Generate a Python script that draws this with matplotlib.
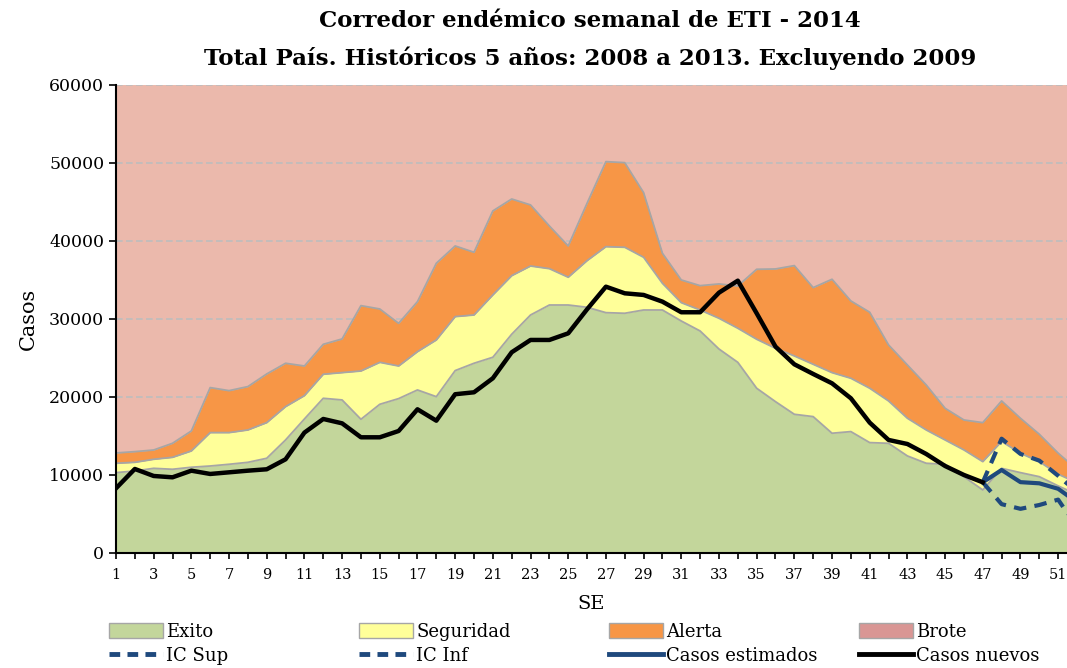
import numpy as np
import matplotlib
matplotlib.use("Agg")
import matplotlib.pyplot as plt  # noqa
from matplotlib.patches import Patch  # noqa
from matplotlib.lines import Line2D  # noqa

plt.rcParams["font.family"] = ["DejaVu Serif"]

# Epidemiological weeks
weeks = np.arange(1, 53)

# Upper limits of each zone (cumulative values)
exito = [10300, 10510, 10850, 10730, 10990, 11150, 11370, 11620, 12140, 14490,
         17180, 19830, 19620, 17140, 19060, 19790, 20900, 20040, 23380, 24320,
         25090, 28040, 30510, 31790, 31790, 31500, 30810, 30730, 31150, 31150,
         29740, 28460, 26150, 24440, 21120, 19400, 17780, 17480, 15350, 15560,
         14150, 14060, 12440, 11500, 11370, 9780, 8080, 10850, 10300, 9780,
         8600, 7500]
seguridad = [11500, 11620, 12010, 12260, 13080, 15430, 15430, 15770, 16710,
             18760, 20170, 22910, 23120, 23330, 24440, 23970, 25810, 27310,
             30300, 30510, 33080, 35550, 36790, 36450, 35350, 37480, 39270,
             39190, 37910, 34570, 32090, 31150, 30090, 28810, 27400, 26240,
             25260, 24190, 23120, 22400, 21120, 19490, 17270, 15770, 14490,
             13210, 11710, 14300, 12780, 11710, 10100, 9000]
alerta = [12820, 12990, 13200, 14060, 15640, 21200, 20810, 21330, 22950, 24320,
          23970, 26750, 27440, 31710, 31280, 29440, 32220, 37140, 39360, 38550,
          43850, 45380, 44620, 41920, 39360, 44830, 50170, 50040, 46200, 38420,
          35000, 34270, 34490, 34230, 36370, 36410, 36840, 34020, 35090, 32310,
          30860, 26670, 24100, 21540, 18550, 17050, 16710, 19490, 17270, 15220,
          12800, 10700]
brote_max = 60000

# Observed cases (weeks 1-47)
casos_nuevos = [8290, 10770, 9870, 9700, 10550, 10130, 10340, 10550, 10730,
                12010, 15430, 17180, 16620, 14830, 14830, 15640, 18420, 16960,
                20350, 20600, 22400, 25730, 27310, 27310, 28160, 31240, 34140,
                33290, 33080, 32220, 30860, 30860, 33370, 34910, 30730, 26450,
                24190, 22950, 21750, 19830, 16710, 14490, 13970, 12690, 11150,
                10000, 9060]

# Estimated cases and confidence interval (weeks 47-52)
weeks_est = np.arange(47, 53)
casos_estimados = [9060, 10640, 9080, 8930, 8230, 6500]
ic_sup = [9060, 14650, 12700, 11840, 9900, 7800]
ic_inf = [9060, 6260, 5660, 6150, 6840, 3300]

c_exito = "#C3D69B"
c_seg = "#FFFF99"
c_alerta = "#F79646"
c_brote = "#D99694"
c_bg = "#EBB9AC"
c_edge = "#A6A6A6"
c_blue = "#1F497D"

fig = plt.figure(figsize=(10.67, 6.68), dpi=100)
ax = fig.add_axes([0.1087, 0.1722, 0.8913, 0.7006])
ax.set_facecolor(c_bg)

# Stacked zones
zero = np.zeros(len(weeks))
ax.fill_between(weeks, zero, exito, color=c_exito, lw=0, zorder=2)
ax.fill_between(weeks, exito, seguridad, color=c_seg, lw=0, zorder=2)
ax.fill_between(weeks, seguridad, alerta, color=c_alerta, lw=0, zorder=2)
for lim in (exito, seguridad, alerta):
    ax.plot(weeks, lim, color=c_edge, lw=1.3, zorder=3)

# Lines
ax.plot(weeks_est, ic_sup, color=c_blue, lw=3, ls=(0, (3, 2)), zorder=4)
ax.plot(weeks_est, ic_inf, color=c_blue, lw=3, ls=(0, (3, 2)), zorder=4)
ax.plot(weeks_est, casos_estimados, color=c_blue, lw=3, zorder=4)
ax.plot(weeks[:len(casos_nuevos)], casos_nuevos, color="black", lw=3.2,
        zorder=5)

ax.set_xlim(1, 51.47)
ax.set_ylim(0, brote_max)
ax.set_yticks(np.arange(0, 60001, 10000))
ax.set_xticks(weeks[weeks <= 51])
ax.set_xticklabels([str(w) if w % 2 == 1 else "" for w in weeks[weeks <= 51]])
ax.tick_params(axis="x", direction="inout", length=9, width=1.2,
               labelsize=10.5, pad=6)
ax.tick_params(axis="y", direction="out", length=5, width=1.2,
               labelsize=12.5)
ax.yaxis.grid(True, color="#BDBDBD", ls=(0, (4, 2)), lw=1.2, zorder=1)
ax.set_axisbelow(True)
for s in ("top", "right"):
    ax.spines[s].set_visible(False)
for s in ("left", "bottom"):
    ax.spines[s].set_linewidth(1.5)
    ax.spines[s].set_zorder(6)

ax.set_ylabel("Casos", fontsize=15, labelpad=8)
ax.set_xlabel("SE", fontsize=14, labelpad=10)

fig.text(0.553, 0.969, "Corredor endémico semanal de ETI - 2014",
         ha="center", va="center", fontsize=16.5, fontweight="bold")
fig.text(0.553, 0.913,
         "Total País. Históricos 5 años: 2008 a 2013. Excluyendo 2009",
         ha="center", va="center", fontsize=16.5, fontweight="bold")

# Legend, one block per column
cols = [
    [(Patch(facecolor=c_exito, edgecolor=c_edge), "Exito"),
     (Line2D([0], [0], color=c_blue, lw=3.5, ls=(0, (2.2, 1.5))), "IC Sup")],
    [(Patch(facecolor=c_seg, edgecolor=c_edge), "Seguridad"),
     (Line2D([0], [0], color=c_blue, lw=3.5, ls=(0, (2.2, 1.5))), "IC Inf")],
    [(Patch(facecolor=c_alerta, edgecolor=c_edge), "Alerta"),
     (Line2D([0], [0], color=c_blue, lw=3.5), "Casos estimados")],
    [(Patch(facecolor=c_brote, edgecolor=c_edge), "Brote"),
     (Line2D([0], [0], color="black", lw=3.5), "Casos nuevos")],
]
for i, col in enumerate(cols):
    fig.legend([h for h, _ in col], [t for _, t in col],
               loc="upper left", bbox_to_anchor=(0.1017 + i * 0.2343, 0.068),
               frameon=False, fontsize=13, handlelength=3.0,
               handleheight=0.9, handletextpad=0.2, labelspacing=0.35,
               borderpad=0, borderaxespad=0)

fig.savefig("out.png", dpi=100)
